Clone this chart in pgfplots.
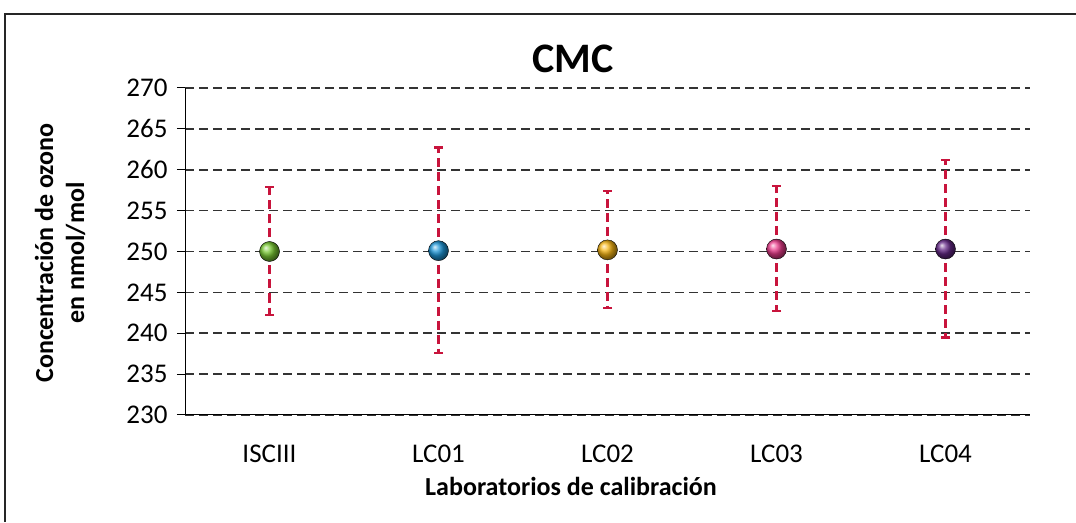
\documentclass[border=0pt]{standalone}
\usepackage{pgfplots}
\pgfplotsset{compat=1.18}
\usepackage{fontspec}
\setmainfont{Carlito}
\definecolor{cgreen}{RGB}{120,200,50}
\definecolor{cblue}{RGB}{30,150,215}
\definecolor{cyellow}{RGB}{245,180,20}
\definecolor{cpink}{RGB}{235,60,140}
\definecolor{cpurple}{RGB}{100,40,135}
\definecolor{cerr}{RGB}{200,20,60}
\begin{document}
\begin{tikzpicture}[x=1pt,y=1pt]
\path[use as bounding box] (0,0) rectangle (1076,522);
\draw[line width=1.2pt, black!85] (5,0) -- (5,508) -- (1076,508);
\begin{axis}[at={(185pt,107pt)}, anchor=south west, scale only axis,
  width=845pt, height=327pt,
  xmin=-0.5, xmax=4.5, ymin=230, ymax=270,
  ytick={230,235,...,270},
  xtick={0,1,2,3,4}, xticklabels={ISCIII,LC01,LC02,LC03,LC04},
  minor xtick={-0.5,0.5,1.5,2.5,3.5,4.5},
  xtick style={draw=none},
  minor x tick style={line width=1pt, black},
  y tick style={line width=1pt, black},
  tick align=outside, major tick length=8pt, minor tick length=8pt,
  axis x line*=bottom, axis y line*=left,
  axis line style={line width=1pt, black, -},
  ymajorgrids, grid style={line width=1.6pt, black!80, dash pattern=on 9pt off 5pt},
  tick label style={font=\fontsize{27}{30}\selectfont, /pgf/number format/assume math mode=true},
  yticklabel style={xshift=-6pt},
  xticklabel style={yshift=-18pt},
  clip=false,
  error bars/error bar style={line width=2.4pt, cerr, dash pattern=on 9pt off 5pt},
  error bars/error mark=-,
  error bars/error mark options={rotate=90, line width=2.4pt, cerr, solid, mark size=4.5pt},
]
\addplot[only marks, mark=ball, mark size=10pt, mark options={ball color=cgreen},
  error bars/.cd, y dir=both, y explicit]
  coordinates {(0,250.0) += (0,7.9) -= (0,7.8)};
\addplot[only marks, mark=ball, mark size=10pt, mark options={ball color=cblue},
  error bars/.cd, y dir=both, y explicit]
  coordinates {(1,250.1) += (0,12.6) -= (0,12.5)};
\addplot[only marks, mark=ball, mark size=10pt, mark options={ball color=cyellow},
  error bars/.cd, y dir=both, y explicit]
  coordinates {(2,250.2) += (0,7.2) -= (0,7.1)};
\addplot[only marks, mark=ball, mark size=10pt, mark options={ball color=cpink},
  error bars/.cd, y dir=both, y explicit]
  coordinates {(3,250.3) += (0,7.7) -= (0,7.6)};
\addplot[only marks, mark=ball, mark size=10pt, mark options={ball color=cpurple},
  error bars/.cd, y dir=both, y explicit]
  coordinates {(4,250.3) += (0,10.9) -= (0,10.8)};
\end{axis}
\node[font=\bfseries\fontsize{42}{46}\selectfont] at (573,463) {CMC};
\node[font=\bfseries\fontsize{26}{31}\selectfont, rotate=90, align=center] at (60,269) {Concentración de ozono\\en nmol/mol};
\node[font=\bfseries\fontsize{26}{30}\selectfont] at (571,36) {Laboratorios de calibración};
\end{tikzpicture}
\end{document}
